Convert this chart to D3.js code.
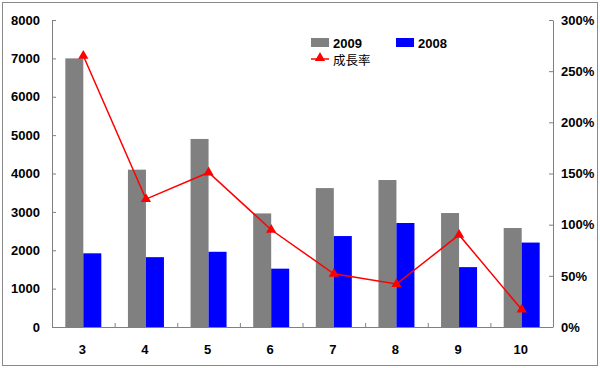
<!DOCTYPE html>
<html>
<head>
<meta charset="utf-8">
<script src="https://cdn.jsdelivr.net/npm/d3@7"></script>
<style>
  body { margin: 0; background: #fff; }
  text { font-family: "Liberation Sans", Arial, sans-serif; }
</style>
</head>
<body>
<div id="chart"></div>
<script>
// data
let months = ["3", "4", "5", "6", "7", "8", "9", "10"];
let sales2009 = [7000, 4100, 4900, 2960, 3620, 3830, 2970, 2580];
let sales2008 = [1920, 1820, 1960, 1520, 2370, 2710, 1560, 2200];
let growth = [2.65, 1.25, 1.51, 0.95, 0.52, 0.42, 0.90, 0.17];
let leftTicks = [0, 1000, 2000, 3000, 4000, 5000, 6000, 7000, 8000];
let rightTicks = [0, 0.5, 1, 1.5, 2, 2.5, 3];

let width = 600, height = 368;
let margin = {top: 20, right: 47, bottom: 41, left: 52};
let w = width - margin.left - margin.right;
let h = height - margin.top - margin.bottom;

let svg = d3.select("#chart").append("svg")
    .attr("width", width)
    .attr("height", height);

// outer frame
svg.append("rect")
    .attr("x", 2.5).attr("y", 2.5)
    .attr("width", width - 5).attr("height", height - 5)
    .attr("fill", "#fff")
    .attr("stroke", "#888")
    .attr("stroke-width", 1);

let g = svg.append("g")
    .attr("transform", `translate(${margin.left},${margin.top})`);

let x = d3.scaleBand().domain(months).range([0, w]);
let xs = d3.scaleBand().domain(["2009", "2008"]).range([0, 36]);
let y = d3.scaleLinear().domain([0, 8000]).range([h, 0]);
let y2 = d3.scaleLinear().domain([0, 3]).range([h, 0]);

let off = (x.bandwidth() - 36) / 2;

// bars
g.selectAll(".b09").data(months).enter().append("rect")
    .attr("x", (d, i) => x(d) + off + xs("2009"))
    .attr("y", (d, i) => y(sales2009[i]))
    .attr("width", xs.bandwidth())
    .attr("height", (d, i) => h - y(sales2009[i]))
    .attr("fill", "#808080");

g.selectAll(".b08").data(months).enter().append("rect")
    .attr("x", (d, i) => x(d) + off + xs("2008"))
    .attr("y", (d, i) => y(sales2008[i]))
    .attr("width", xs.bandwidth())
    .attr("height", (d, i) => h - y(sales2008[i]))
    .attr("fill", "#0000ff");

// axes
let yAxis = d3.axisLeft(y).tickValues(leftTicks).tickFormat(d3.format("d")).tickSizeInner(-4).tickSizeOuter(0).tickPadding(12);
let yAxisR = d3.axisRight(y2).tickValues(rightTicks).tickFormat(d3.format(".0%")).tickSizeInner(-4).tickSizeOuter(0).tickPadding(12);

let ya = g.append("g").call(yAxis);
let yr = g.append("g").attr("transform", `translate(${w},0)`).call(yAxisR);

let xa = g.append("g").attr("transform", `translate(0,${h})`);
xa.append("line").attr("x1", 0).attr("x2", w).attr("y1", 0.5).attr("y2", 0.5).attr("stroke", "#808080");
xa.selectAll(".tk").data(months.slice(1)).enter().append("line")
    .attr("x1", d => x(d) + 0.5).attr("x2", d => x(d) + 0.5)
    .attr("y1", 0).attr("y2", -4)
    .attr("stroke", "#808080");
xa.selectAll(".lbl").data(months).enter().append("text")
    .attr("x", d => x(d) + x.bandwidth() / 2 - 1)
    .attr("y", 27)
    .attr("text-anchor", "middle")
    .style("font-size", "13px")
    .style("font-weight", "bold")
    .text(d => d);

[ya, yr].forEach(a => {
    a.select(".domain").attr("stroke", "#808080");
    a.selectAll(".tick line").attr("stroke", "#808080");
    a.selectAll("text")
        .style("font-size", "13px")
        .style("font-weight", "bold")
        .attr("fill", "#000");
});
yr.selectAll("text").attr("dx", "-4");

// growth line
let cx = d => x(d) + x.bandwidth() / 2;
let line = d3.line()
    .x((d, i) => cx(months[i]))
    .y(d => y2(d));

g.append("path")
    .datum(growth)
    .attr("d", line)
    .attr("fill", "none")
    .attr("stroke", "#ff0000")
    .attr("stroke-width", 1.5);

let tri = d3.symbol().type(d3.symbolTriangle).size(45);
g.selectAll(".mk").data(growth).enter().append("path")
    .attr("d", tri)
    .attr("transform", (d, i) => `translate(${cx(months[i])},${y2(d)})`)
    .attr("fill", "#ff0000");

// legend
let lg = svg.append("g");
lg.append("rect").attr("x", 311).attr("y", 38).attr("width", 18).attr("height", 9).attr("fill", "#808080");
lg.append("text").attr("x", 333).attr("y", 48).style("font-size", "13px").style("font-weight", "bold").text("2009");
lg.append("rect").attr("x", 396).attr("y", 38).attr("width", 18).attr("height", 9).attr("fill", "#0000ff");
lg.append("text").attr("x", 418).attr("y", 48).style("font-size", "13px").style("font-weight", "bold").text("2008");
lg.append("line").attr("x1", 311).attr("x2", 329).attr("y1", 59).attr("y2", 59).attr("stroke", "#ff0000").attr("stroke-width", 1.5);
lg.append("path").attr("d", tri).attr("transform", "translate(320,58)").attr("fill", "#ff0000");
lg.append("text").attr("x", 333).attr("y", 65).style("font-size", "12.5px")
    .style("font-family", "'Noto Sans CJK TC', sans-serif").text("成長率");
</script>
</body>
</html>
